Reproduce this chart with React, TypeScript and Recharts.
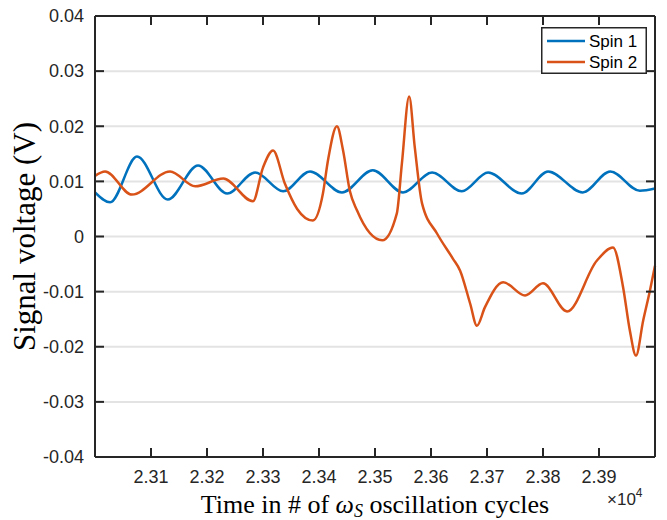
import { LineChart, Line, XAxis, YAxis, CartesianGrid, Legend } from 'recharts'

// Spin 1: sampled at its turning points (cycles, volts)
const spin1Cycles = [
  23000, 23027, 23075, 23130, 23184, 23236, 23286, 23336, 23384, 23441, 23496,
  23550, 23602, 23655, 23702, 23762, 23809, 23871, 23920, 23973, 24000,
]
const spin1Volts = [
  0.008, 0.0062, 0.0145, 0.0067, 0.0129, 0.0078, 0.0116, 0.0082, 0.0118, 0.008, 0.012,
  0.008, 0.0116, 0.0082, 0.0116, 0.0078, 0.0118, 0.008, 0.0118, 0.0083, 0.0087,
]

// Spin 2
const spin2Cycles = [
  23000, 23018, 23066, 23134, 23179, 23229, 23282, 23300, 23318, 23339, 23361,
  23389, 23407, 23416, 23432, 23443, 23455, 23468, 23513, 23539, 23548, 23561,
  23571, 23584, 23611, 23639, 23652, 23670, 23682, 23696, 23729, 23768, 23800,
  23843, 23896, 23925, 23943, 23955, 23966, 23979, 23991, 24000,
]
const spin2Volts = [
  0.011, 0.0118, 0.0076, 0.0118, 0.0091, 0.0105, 0.0064, 0.0125, 0.0156, 0.0096, 0.005,
  0.0029, 0.0078, 0.0138, 0.02, 0.0156, 0.0083, 0.0047, -0.0007, 0.0042, 0.0132, 0.0254,
  0.0162, 0.006, 0.0005, -0.004, -0.0062, -0.0122, -0.0162, -0.0129, -0.0083, -0.0107, -0.0085,
  -0.0136, -0.0044, -0.002, -0.0092, -0.017, -0.0216, -0.0152, -0.0098, -0.0053,
]

const xTicks = [23100, 23200, 23300, 23400, 23500, 23600, 23700, 23800, 23900]
const yTicks = [-0.04, -0.03, -0.02, -0.01, 0, 0.01, 0.02, 0.03, 0.04]
const xDomain: [number, number] = [23000, 24000]
const yDomain: [number, number] = [-0.04, 0.04]

const spin1 = spin1Cycles.map((t, i) => ({ t, v: spin1Volts[i] }))
const spin2 = spin2Cycles.map((t, i) => ({ t, v: spin2Volts[i] }))

const AXIS = '#262626'
const SANS = '"Liberation Sans", Arial, Helvetica, sans-serif'
const SERIF = '"Liberation Serif", "Times New Roman", serif'
const TICK_LEN = 9

const fmtVolt = (v: number) => (Math.abs(v) < 1e-9 ? '0' : v.toFixed(2))

const axisProps = {
  tickSize: 0,
  tickMargin: 0,
  tickLine: false,
  axisLine: { stroke: AXIS, strokeWidth: 2 },
}

// each tick draws its own inward mark (boxed MATLAB look); side says which way is inside
function Tick({ x, y, payload, side }: any) {
  const dx = side === 'left' ? 1 : side === 'right' ? -1 : 0
  const dy = side === 'bottom' ? -1 : side === 'top' ? 1 : 0
  return (
    <g>
      <rect
        x={Math.min(x, x + dx * TICK_LEN) - (dx ? 0 : 1)}
        y={Math.min(y, y + dy * TICK_LEN) - (dy ? 0 : 1)}
        width={dx ? TICK_LEN : 2}
        height={dy ? TICK_LEN : 2}
        fill={AXIS}
      />
      {side === 'bottom' && (
        <text x={x} y={y + 26} textAnchor="middle" fontSize={18} fontFamily={SANS} fill={AXIS}>
          {(payload.value / 1e4).toFixed(2)}
        </text>
      )}
      {side === 'left' && (
        <text x={x - 11} y={y} dy="0.35em" textAnchor="end" fontSize={18} fontFamily={SANS} fill={AXIS}>
          {fmtVolt(payload.value)}
        </text>
      )}
    </g>
  )
}

function TimeTitle({ viewBox }: any) {
  const { x, y, width } = viewBox
  return (
    <g>
      <text x={x + width / 2} y={y + 56} textAnchor="middle" fontFamily={SERIF} fontSize={26} fill="#000">
        {'Time in # of '}
        <tspan fontStyle="italic">ω</tspan>
        <tspan fontStyle="italic" fontSize={18} dy={4}>S</tspan>
        <tspan dy={-4}>{' oscillation cycles'}</tspan>
      </text>
      <text x={x + width - 48} y={y + 48} fontFamily={SANS} fontSize={17} fill={AXIS}>
        ×10<tspan fontSize={12} dy={-8}>4</tspan>
      </text>
    </g>
  )
}

function VoltTitle({ viewBox }: any) {
  const { x, y, height } = viewBox
  const cx = x + 35
  const cy = y + height / 2
  return (
    <text
      x={cx}
      y={cy}
      transform={`rotate(-90 ${cx} ${cy})`}
      textAnchor="middle"
      fontFamily={SERIF}
      fontSize={31}
      fill="#000"
    >
      Signal voltage (V)
    </text>
  )
}

function SpinLegend({ payload }: any) {
  return (
    <svg width={106} height={47} style={{ display: 'block' }}>
      <rect x={0.75} y={0.75} width={104.5} height={45.5} fill="#fff" stroke={AXIS} strokeWidth={1.5} />
      {(payload ?? []).map((p: any, i: number) => (
        <g key={p.value}>
          <line x1={6} x2={44} y1={14 + 21 * i} y2={14 + 21 * i} stroke={p.color} strokeWidth={2.5} />
          <text x={48} y={14 + 21 * i} dy="0.35em" fontSize={17} fontFamily={SANS} fill="#000">
            {p.value}
          </text>
        </g>
      ))}
    </svg>
  )
}

export default function App() {
  return (
    <div style={{ position: 'absolute', left: 0, top: 0, background: '#fff' }}>
      {/* top/right axes get 1px of room: a zero-sized axis skips its ticks */}
      <LineChart width={667} height={520} margin={{ top: 15, right: 11, left: 0, bottom: 0 }}>
        <CartesianGrid
          xAxisId="bottom"
          yAxisId="left"
          vertical={false}
          stroke="#e3e3e3"
          strokeWidth={2}
        />
        <XAxis
          xAxisId="bottom"
          dataKey="t"
          type="number"
          domain={xDomain}
          ticks={xTicks}
          height={63}
          {...axisProps}
          tick={<Tick side="bottom" />}
          label={<TimeTitle />}
        />
        <XAxis
          xAxisId="top"
          orientation="top"
          dataKey="t"
          type="number"
          domain={xDomain}
          ticks={xTicks}
          height={1}
          {...axisProps}
          tick={<Tick side="top" />}
        />
        <YAxis
          yAxisId="left"
          type="number"
          domain={yDomain}
          ticks={yTicks}
          width={95}
          {...axisProps}
          tick={<Tick side="left" />}
          label={<VoltTitle />}
        />
        <YAxis
          yAxisId="right"
          orientation="right"
          type="number"
          domain={yDomain}
          ticks={yTicks}
          width={1}
          {...axisProps}
          tick={<Tick side="right" />}
        />
        <Legend
          layout="horizontal"
          align="center"
          verticalAlign="middle"
          content={<SpinLegend />}
          wrapperStyle={{ left: 541, top: 27, width: 106, height: 47 }}
        />
        <Line
          xAxisId="bottom"
          yAxisId="left"
          data={spin1}
          dataKey="v"
          name="Spin 1"
          type="monotone"
          stroke="#0072BD"
          strokeWidth={2.5}
          dot={false}
          isAnimationActive={false}
        />
        <Line
          xAxisId="top"
          yAxisId="right"
          data={spin2}
          dataKey="v"
          name="Spin 2"
          type="monotone"
          stroke="#D95319"
          strokeWidth={2.5}
          dot={false}
          isAnimationActive={false}
        />
      </LineChart>
    </div>
  )
}
